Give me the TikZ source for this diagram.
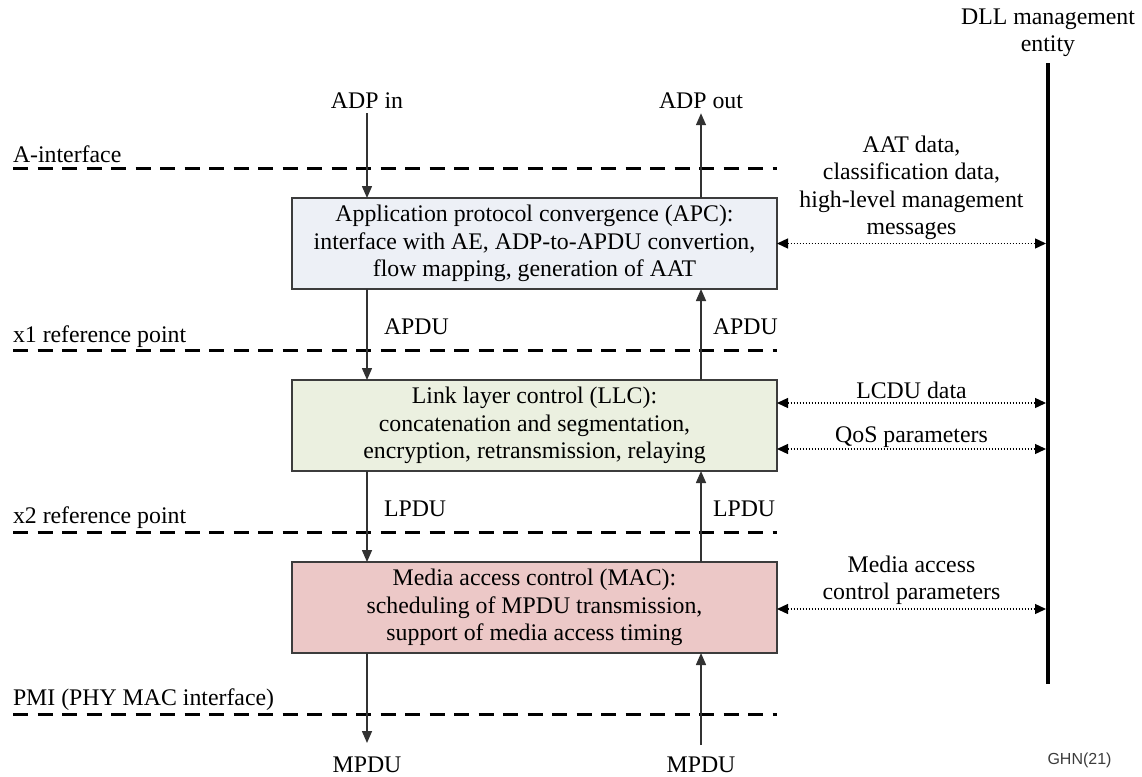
\documentclass[tikz,border=0pt]{standalone}
\usepackage{fontspec}
\setmainfont{Liberation Serif}
\newfontfamily\tagfont{Liberation Sans}
\usetikzlibrary{arrows.meta}
\definecolor{apcfill}{RGB}{237,240,246}
\definecolor{llcfill}{RGB}{235,240,224}
\definecolor{macfill}{RGB}{236,200,199}
\definecolor{boxedge}{RGB}{60,60,60}
\definecolor{flowgray}{RGB}{50,50,50}
\definecolor{tagcolor}{RGB}{60,60,60}
\begin{document}
\begin{tikzpicture}[x=1pt,y=-1pt,
  every node/.style={font=\fontsize{23.8}{27.5}\selectfont, text=black, inner sep=0pt, outer sep=0pt},
  layerbox/.style={draw=boxedge, line width=1.4pt, minimum width=485pt, minimum height=91pt, align=center},
  refline/.style={line width=3pt, dash pattern=on 15pt off 9.5pt},
  flow/.style={draw=flowgray, line width=1.5pt, -{Triangle[length=12pt,width=10pt]}},
  mgmt/.style={line width=1.3pt, dash pattern=on 1.6pt off 1.4pt,
    {Triangle[length=11pt,width=10pt]}-{Triangle[length=11pt,width=10pt]}},
  reflabel/.style={anchor=base west},
]
\path[use as bounding box] (0,0) rectangle (1142,776);

% reference points (dashed interface lines)
\coordinate (aL) at (13,168);  \coordinate (aR) at (777,168);
\coordinate (x1L) at (13,350); \coordinate (x1R) at (777,350);
\coordinate (x2L) at (13,532); \coordinate (x2R) at (777,532);
\coordinate (pmL) at (13,714); \coordinate (pmR) at (777,714);
\draw[refline] (aL) -- (aR);
\draw[refline] (x1L) -- (x1R);
\draw[refline] (x2L) -- (x2R);
\draw[refline] (pmL) -- (pmR);
\node[reflabel] (lblA) at (13,162) {A-interface};
\node[reflabel] (lblX1) at (13,342) {x1 reference point};
\node[reflabel] (lblX2) at (13,523) {x2 reference point};
\node[reflabel] (lblPMI) at (13,705) {PMI (PHY MAC interface)};

% the three DLL sub-layers
\node[layerbox, fill=apcfill] (apc) at (534.5,243.5)
  {Application protocol convergence (APC):\\interface with AE, ADP-to-APDU convertion,\\flow mapping, generation of AAT};
\node[layerbox, fill=llcfill] (llc) at (534.5,425.5)
  {Link layer control (LLC):\\concatenation and segmentation,\\encryption, retransmission, relaying};
\node[layerbox, fill=macfill] (mac) at (534.5,607.5)
  {Media access control (MAC):\\scheduling of MPDU transmission,\\support of media access timing};

% data path: down on the left, up on the right
\node[anchor=base] (adpin) at (367,108) {ADP in};
\node[anchor=base] (adpout) at (701,108) {ADP out};
\draw[flow] ([yshift=-5pt]adpin.south) -- (adpin.south |- apc.north);
\draw[flow] (adpout.south |- apc.north) -- ([yshift=-5pt]adpout.south);

\draw[flow] (adpin.south |- apc.south) -- (adpin.south |- llc.north);
\draw[flow] (adpout.south |- llc.north) -- (adpout.south |- apc.south);
\node[anchor=base west] (apduL) at (384,334) {APDU};
\node[anchor=base west] (apduR) at (713,334) {APDU};

\draw[flow] (adpin.south |- llc.south) -- (adpin.south |- mac.north);
\draw[flow] (adpout.south |- mac.north) -- (adpout.south |- llc.south);
\node[anchor=base west] (lpduL) at (384,516) {LPDU};
\node[anchor=base west] (lpduR) at (713,516) {LPDU};

\node[anchor=base] (mpduL) at (367,772) {MPDU};
\node[anchor=base] (mpduR) at (701,772) {MPDU};
\coordinate (mpduLtip) at (367,743);
\coordinate (mpduRfoot) at (701,745);
\draw[flow] (adpin.south |- mac.south) -- (mpduLtip);
\draw[flow] (mpduRfoot) -- (adpout.south |- mac.south);

% DLL management entity
\coordinate (dllTop) at (1048,63);
\coordinate (dllBot) at (1048,684);
\coordinate (dllEdge) at (1046,63);
\draw[line width=4pt] (dllTop) -- (dllBot);
\node[anchor=south, align=center] (dllName) at (1048,57) {DLL management\\entity};

\draw[mgmt] (apc.east) -- (apc.east -| dllEdge);
\node[anchor=south, align=center] (apcMgmt) at (911.5,240)
  {AAT data,\\classification data,\\high-level management\\messages};

\draw[mgmt] ([yshift=22.5pt]llc.east) -- ([yshift=22.5pt]llc.east -| dllEdge);
\draw[mgmt] ([yshift=-23.5pt]llc.east) -- ([yshift=-23.5pt]llc.east -| dllEdge);
\node[anchor=base] (lcdu) at (911.5,398) {LCDU data};
\node[anchor=base] (qos) at (911.5,442) {QoS parameters};

\draw[mgmt] ([yshift=-1.5pt]mac.east) -- ([yshift=-1.5pt]mac.east -| dllEdge);
\node[anchor=south, align=center] (macMgmt) at (911.5,605)
  {Media access\\control parameters};

\node[anchor=base, font=\tagfont\fontsize{16}{19}\selectfont, text=tagcolor] (tag) at (1079.5,764) {GHN(21)};
\end{tikzpicture}
\end{document}
